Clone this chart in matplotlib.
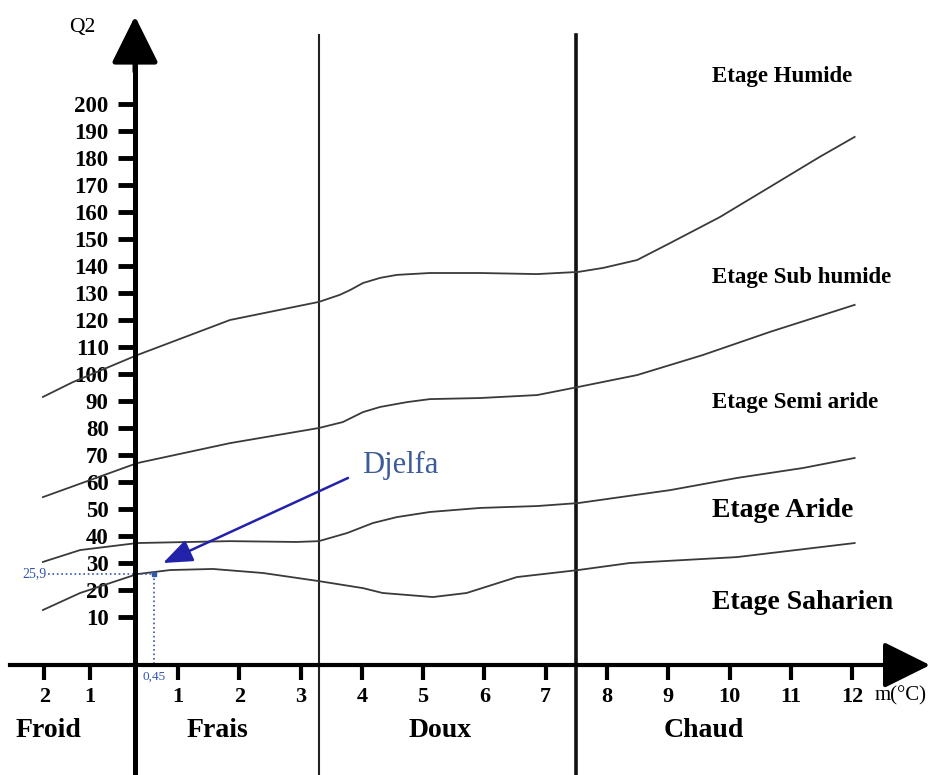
import numpy as np
import matplotlib
matplotlib.use("Agg")
import matplotlib.pyplot as plt

plt.rcParams['font.family'] = ['Liberation Serif', 'DejaVu Serif']

# limites des etages (m en degres C, Q2)
c1_m = [-2.03, -1.37, 0.05, 1.85, 3.30, 3.64, 3.81, 4.02, 4.30, 4.57, 5.11, 5.93, 6.86, 7.53, 7.94, 8.49, 9.03, 9.84, 10.66, 11.47, 12.04]
c1_q = [91.5, 97.0, 107.0, 120.0, 126.7, 129.3, 131.1, 133.7, 135.6, 136.7, 137.4, 137.4, 137.0, 137.8, 139.3, 142.2, 148.5, 158.1, 169.3, 180.4, 187.8]
c2_m = [-2.03, 0.05, 1.85, 3.30, 3.69, 4.02, 4.30, 4.74, 5.11, 5.93, 6.86, 7.53, 8.49, 9.56, 10.66, 12.04]
c2_q = [54.4, 67.0, 74.4, 80.0, 82.2, 85.9, 87.8, 89.6, 90.7, 91.1, 92.2, 95.2, 99.6, 107.0, 115.6, 125.6]
c3_m = [-2.03, -1.21, 0.05, 1.85, 2.94, 3.30, 3.76, 4.18, 4.57, 5.11, 5.93, 6.86, 7.53, 9.03, 10.12, 11.20, 12.04]
c3_q = [30.4, 34.8, 37.4, 38.1, 37.8, 38.1, 41.1, 44.8, 47.0, 48.9, 50.4, 51.1, 52.2, 57.0, 61.5, 65.2, 68.9]
c4_m = [-2.03, -1.21, 0.05, 0.82, 1.57, 2.39, 3.30, 4.02, 4.34, 5.16, 5.71, 6.53, 7.53, 8.37, 10.12, 12.04]
c4_q = [12.6, 18.9, 25.9, 27.4, 27.8, 26.3, 23.3, 20.7, 18.9, 17.4, 18.9, 24.8, 27.4, 30.0, 32.2, 37.4]

# station
station = "Djelfa"
station_m = 0.45
station_q2 = 25.9

q2_ticks = list(range(10, 201, 10))
m_ticks = [-2, -1, 1, 2, 3, 4, 5, 6, 7, 8, 9, 10, 11, 12]
m_labels = [str(abs(v)) for v in m_ticks]

hiver_limites = [3.3, 7.5]
hiver_noms = ["Froid", "Frais", "Doux", "Chaud"]
hiver_centres = [-1.9, 1.65, 5.27, 9.58]

etages = ["Etage Humide", "Etage Sub humide", "Etage Semi aride", "Etage Aride", "Etage Saharien"]
etages_q2 = [210.0, 135.9, 89.3, 49.3, 15.2]
etages_taille = [16.5, 16.5, 16.5, 20, 20]


# axe des m dilate au-dela de 1
def fwd(m):
    m = np.asarray(m, dtype=float)
    return np.where(m < 0, 0.74 * m, np.where(m < 1, 0.70 * m, 0.70 + (m - 1)))


def inv(u):
    u = np.asarray(u, dtype=float)
    return np.where(u < 0, u / 0.74, np.where(u < 0.70, u / 0.70, u - 0.70 + 1))


fig = plt.figure(figsize=(9.39, 7.75), dpi=100)
ax = fig.add_axes([0, 0, 1, 1])
ax.set_xscale('function', functions=(fwd, inv))
ax.set_xlim(-2.976, 13.416)
ax.set_ylim(-48.5, 238.5)

y0 = -7.8  # hauteur de l'axe des m

ax.spines['top'].set_visible(False)
ax.spines['right'].set_visible(False)
ax.spines['left'].set_position(('data', 0))
ax.spines['bottom'].set_position(('data', y0))
ax.spines['left'].set_bounds(-48.5, 218)
ax.spines['bottom'].set_bounds(-2.75, 12.9)
ax.spines['left'].set_linewidth(3.6)
ax.spines['bottom'].set_linewidth(3.0)

ax.set_yticks(q2_ticks)
ax.set_yticklabels([str(v) for v in q2_ticks], fontweight='bold')
ax.set_xticks(m_ticks)
ax.set_xticklabels(m_labels, fontweight='bold')
ax.minorticks_off()
ax.tick_params(axis='y', direction='out', length=12, width=3.5, pad=7, labelsize=16.5)
ax.tick_params(axis='x', direction='out', length=11, width=3.0, pad=5, labelsize=16)

# fleches des axes
ax.annotate('', xy=(0, 232.5), xytext=(0, 212),
            arrowprops=dict(arrowstyle='-|>,head_length=1.45,head_width=0.72',
                            color='k', lw=3.6, mutation_scale=20, shrinkA=0, shrinkB=0))
ax.annotate('', xy=(13.27, y0), xytext=(12.6, y0),
            arrowprops=dict(arrowstyle='-|>,head_length=1.45,head_width=0.72',
                            color='k', lw=3.0, mutation_scale=20, shrinkA=0, shrinkB=0))

# separations des variantes thermiques
ax.plot([hiver_limites[0]] * 2, [-48.5, 225.6], color='#222222', lw=1.5)
ax.plot([hiver_limites[1]] * 2, [-48.5, 225.6], color='#111111', lw=2.6)

for m, q in [(c1_m, c1_q), (c2_m, c2_q), (c3_m, c3_q), (c4_m, c4_q)]:
    ax.plot(m, q, color='#3a3a3a', lw=1.3)

ax.text(-1.17, 228.5, "Q2", fontsize=15.5, ha='center', va='center')
ax.text(12.37, -19.0, "m(°C)", fontsize=15, ha='left', va='center')

for nom, c in zip(hiver_noms, hiver_centres):
    ax.text(c, -32.0, nom, fontsize=20, fontweight='bold', ha='center', va='center')

for nom, q, t in zip(etages, etages_q2, etages_taille):
    ax.text(9.71, q, nom, fontsize=t, fontweight='bold', ha='left', va='center')

# position de la station
bleu = '#3355aa'
ax.plot([-1.92, station_m], [station_q2, station_q2], ls=':', color=bleu, lw=1.2)
ax.plot([station_m, station_m], [station_q2, y0], ls=':', color=bleu, lw=1.2)
ax.plot(station_m, station_q2, 's', color=bleu, ms=3)
ax.text(-1.95, station_q2, "25,9", fontsize=10, color=bleu, ha='right', va='center')
ax.text(station_m, -10.0, "0,45", fontsize=9.5, color=bleu, ha='center', va='top')
ax.annotate('', xy=(0.653, 30.0), xytext=(3.775, 61.5),
            arrowprops=dict(arrowstyle='-|>,head_length=0.9,head_width=0.35',
                            color='#2222aa', lw=1.8, mutation_scale=20, shrinkA=0, shrinkB=0))
ax.text(4.0, 66.0, station, fontsize=22, color='#3d5a99', ha='left', va='center')

fig.savefig("out.png", dpi=100)
